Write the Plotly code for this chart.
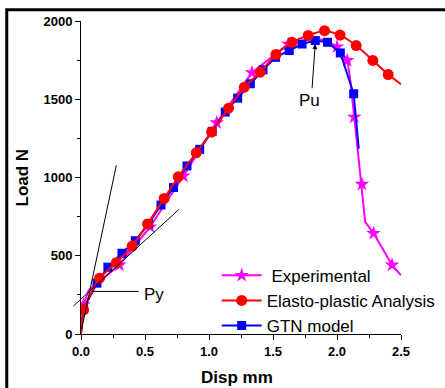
import plotly.graph_objects as go

# ---------------- data ----------------
exp_x = [0.0, 0.02, 0.06, 0.15, 0.30, 0.54, 0.80, 1.06, 1.335, 1.62, 1.80, 1.90, 2.00, 2.08, 2.10, 2.135, 2.165, 2.195, 2.21, 2.22, 2.286, 2.43, 2.50]
exp_y = [0, 187, 280, 340, 441, 685, 1010, 1350, 1670, 1853, 1885, 1880, 1835, 1748, 1650, 1386, 1150, 957, 800, 717, 643, 441, 375]
exp_star_x = [0.02, 0.30, 0.54, 0.80, 1.06, 1.335, 1.62, 2.00, 2.08, 2.135, 2.195, 2.286, 2.43]
exp_star_y = [187, 441, 685, 1010, 1350, 1670, 1853, 1835, 1748, 1386, 957, 643, 441]

ep_line_x = [0.0, 0.02, 0.145, 0.276, 0.40, 0.52, 0.65, 0.76, 0.90, 1.02, 1.153, 1.276, 1.40, 1.523, 1.648, 1.775, 1.903, 2.024, 2.15, 2.28, 2.40, 2.50]
ep_line_y = [0, 155, 357, 456, 562, 703, 866, 1004, 1158, 1290, 1443, 1577, 1673, 1786, 1864, 1908, 1938, 1910, 1843, 1748, 1658, 1596]
ep_circ_x = [0.02, 0.145, 0.276, 0.40, 0.52, 0.65, 0.76, 0.90, 1.02, 1.153, 1.276, 1.40, 1.523, 1.648, 1.775, 1.903, 2.024, 2.15, 2.28, 2.40]
ep_circ_y = [155, 357, 456, 562, 703, 866, 1004, 1158, 1290, 1443, 1577, 1673, 1786, 1864, 1908, 1938, 1910, 1843, 1748, 1658]

gtn_line_x = [0.0, 0.02, 0.125, 0.21, 0.32, 0.424, 0.528, 0.625, 0.723, 0.828, 0.927, 1.025, 1.127, 1.224, 1.323, 1.422, 1.52, 1.627, 1.727, 1.83, 1.926, 2.026, 2.13, 2.17]
gtn_line_y = [0, 159, 325, 427, 516, 596, 703, 824, 936, 1074, 1180, 1295, 1418, 1507, 1599, 1688, 1768, 1811, 1853, 1875, 1864, 1796, 1535, 1185]
gtn_sq_x = gtn_line_x[1:-1]
gtn_sq_y = gtn_line_y[1:-1]

# construction lines (yield point)
tan1_x = [0.005, 0.276]
tan1_y = [30, 1078]
tan2_x = [-0.063, 0.765]
tan2_y = [176, 796]
py_line_x = [0.078, 0.45]
py_line_y = [272, 272]
pu_arrow = dict(x_from=1.805, y_from=1567, x_to=1.83, y_to=1853)

x_ticks = [0.0, 0.5, 1.0, 1.5, 2.0, 2.5]
y_ticks = [0, 500, 1000, 1500, 2000]

MAG = "#FF00FF"
RED = "#FF0000"
BLUE = "#0000FF"
FONT = "Liberation Sans, Arial, sans-serif"

fig = go.Figure()

# experimental
fig.add_trace(go.Scatter(x=exp_x, y=exp_y, mode="lines", line=dict(color=MAG, width=2),
                         showlegend=False, hoverinfo="skip"))
fig.add_trace(go.Scatter(x=exp_star_x, y=exp_star_y, mode="markers",
                         marker=dict(symbol="star", size=11, color=MAG, line=dict(width=0)),
                         showlegend=False))
# GTN
fig.add_trace(go.Scatter(x=gtn_line_x, y=gtn_line_y, mode="lines", line=dict(color=BLUE, width=2),
                         showlegend=False, hoverinfo="skip"))
fig.add_trace(go.Scatter(x=gtn_sq_x, y=gtn_sq_y, mode="markers",
                         marker=dict(symbol="square", size=9, color=BLUE, line=dict(width=0)),
                         showlegend=False))
# Elasto-plastic
fig.add_trace(go.Scatter(x=ep_line_x, y=ep_line_y, mode="lines",
                         line=dict(color=RED, width=2, shape="spline", smoothing=0.6),
                         showlegend=False, hoverinfo="skip"))
fig.add_trace(go.Scatter(x=ep_circ_x, y=ep_circ_y, mode="markers",
                         marker=dict(symbol="circle", size=11, color=RED, line=dict(width=0)),
                         showlegend=False))

# legend entries
fig.add_trace(go.Scatter(x=[None], y=[None], mode="lines+markers", name="\u00a0Experimental",
                         line=dict(color=MAG, width=2),
                         marker=dict(symbol="star", size=11, color=MAG), legendrank=1))
fig.add_trace(go.Scatter(x=[None], y=[None], mode="lines+markers", name="Elasto-plastic Analysis",
                         line=dict(color=RED, width=2),
                         marker=dict(symbol="circle", size=11, color=RED), legendrank=2))
fig.add_trace(go.Scatter(x=[None], y=[None], mode="lines+markers", name="GTN model",
                         line=dict(color=BLUE, width=2),
                         marker=dict(symbol="square", size=9, color=BLUE), legendrank=3))

annotations = []
# construction lines drawn as headless arrows (not clipped at the axis)
for lx, ly in [(tan1_x, tan1_y), (tan2_x, tan2_y), (py_line_x, py_line_y)]:
    annotations.append(dict(x=lx[1], y=ly[1], ax=lx[0], ay=ly[0], xref="x", yref="y",
                            axref="x", ayref="y", text="", showarrow=True, arrowhead=0,
                            arrowwidth=1, arrowcolor="black", font=dict(size=1), borderpad=0,
                            standoff=0, startstandoff=0))
annotations.append(dict(x=py_line_x[1], y=py_line_y[1], text="Py", showarrow=False,
                        xanchor="left", yanchor="middle", xshift=3, yshift=-3,
                        font=dict(family=FONT, size=17, color="black")))
annotations.append(dict(x=pu_arrow["x_to"], y=pu_arrow["y_to"], ax=pu_arrow["x_from"], ay=pu_arrow["y_from"],
                        xref="x", yref="y", axref="x", ayref="y", text="", showarrow=True,
                        arrowhead=2, arrowsize=1, arrowwidth=1, arrowcolor="black",
                        font=dict(size=1), borderpad=0, standoff=0, startstandoff=0))
annotations.append(dict(x=pu_arrow["x_from"], y=pu_arrow["y_from"], text="Pu", showarrow=False,
                        xanchor="center", yanchor="top", xshift=-3,
                        font=dict(family=FONT, size=17, color="black")))
# axis titles
annotations.append(dict(x=0.5, y=0, xref="paper", yref="paper", text="<b>Disp mm</b>",
                        showarrow=False, xanchor="center", yanchor="middle", yshift=-43, xshift=-4,
                        font=dict(family=FONT, size=17, color="black")))
annotations.append(dict(x=0, y=0.5, xref="paper", yref="paper", text="<b>Load N</b>",
                        showarrow=False, xanchor="center", yanchor="middle", xshift=-59, textangle=-90,
                        font=dict(family=FONT, size=17, color="black")))

fig.update_layout(
    width=445, height=388,
    margin=dict(l=81, r=44, t=21, b=54, autoexpand=False),
    paper_bgcolor="white", plot_bgcolor="white",
    font=dict(family=FONT, color="black"),
    annotations=annotations,
    legend=dict(x=0.424, y=0.2436, xanchor="left", yanchor="top",
                bgcolor="rgba(0,0,0,0)", borderwidth=0,
                font=dict(family=FONT, size=17, color="black"),
                itemwidth=40, tracegroupgap=0),
    shapes=[dict(type="rect", xref="paper", yref="paper", x0=-0.232, y0=-1, x1=2, y1=1.0357,
                 line=dict(color="black", width=3), layer="above")],
    showlegend=True,
)

fig.update_xaxes(range=[0, 2.5], tickvals=x_ticks, ticktext=[f"<b>{v:.1f}</b>" for v in x_ticks],
                 showline=True, linecolor="black", linewidth=1, ticks="outside", ticklen=5,
                 tickcolor="black", tickwidth=1, showgrid=False, zeroline=False,
                 tickfont=dict(family=FONT, size=13, color="black"),
                 minor=dict(dtick=0.25, tick0=0, ticks="outside", ticklen=3, tickcolor="black", showgrid=False))
fig.update_yaxes(range=[0, 2000], tickvals=y_ticks, ticktext=[f"<b>{v}</b>" for v in y_ticks],
                 showline=True, linecolor="black", linewidth=1, ticks="outside", ticklen=5,
                 tickcolor="black", tickwidth=1, showgrid=False, zeroline=False,
                 tickfont=dict(family=FONT, size=13, color="black"),
                 minor=dict(dtick=250, tick0=0, ticks="outside", ticklen=3, tickcolor="black", showgrid=False))

fig.write_html("out.html")
